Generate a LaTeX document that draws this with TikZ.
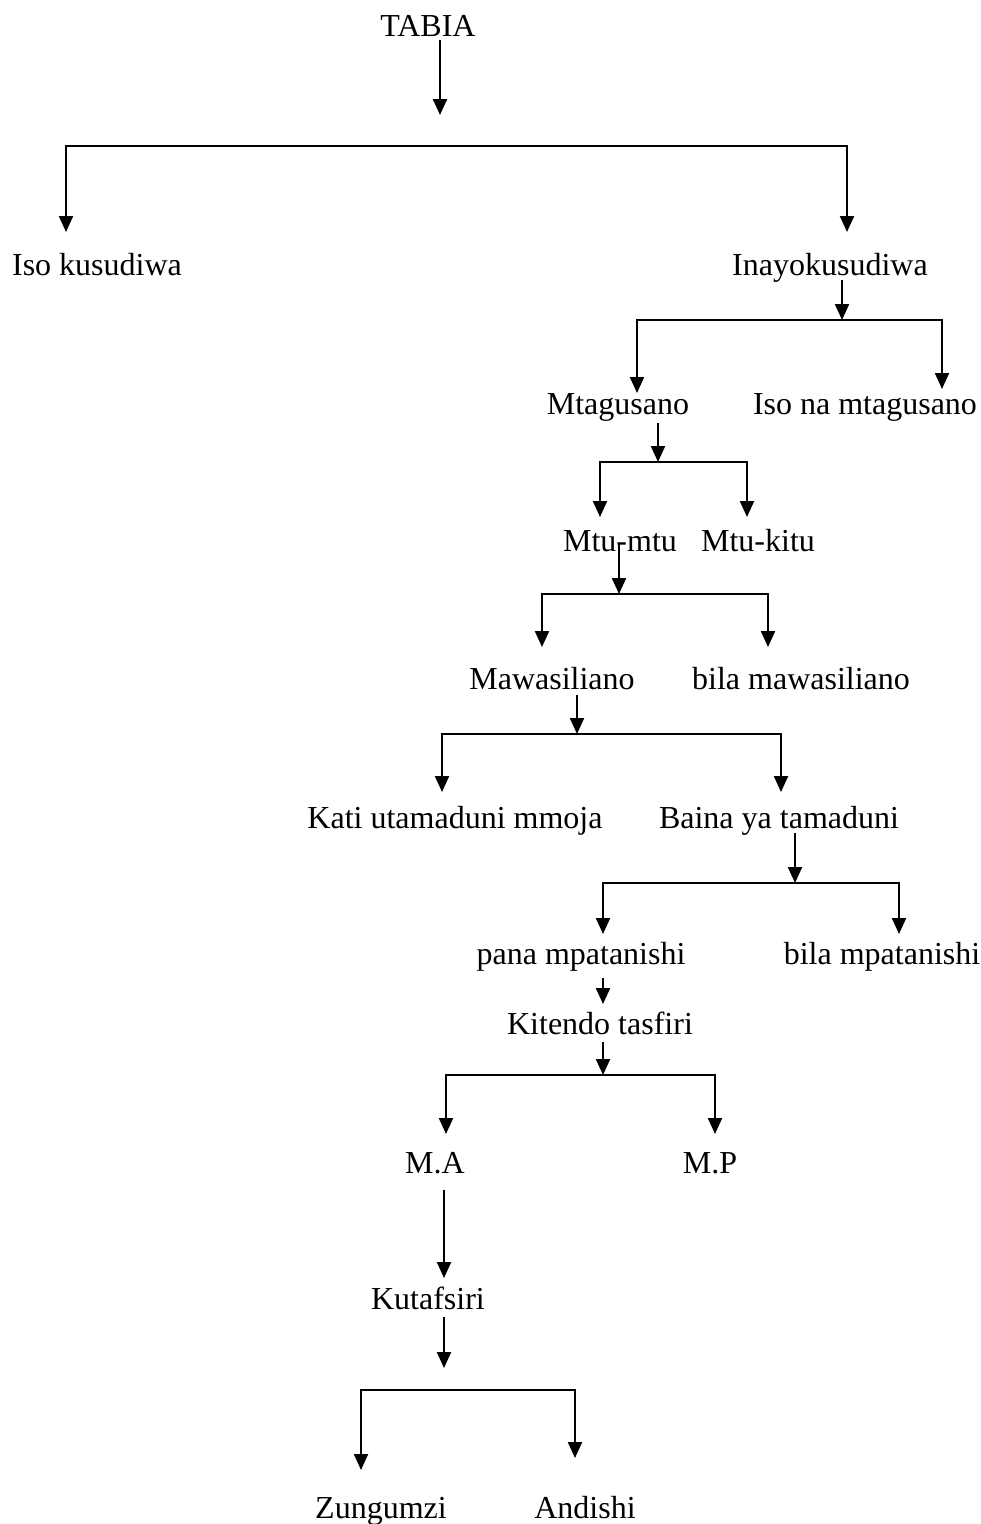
\documentclass[tikz,border=0pt]{standalone}
\usepackage{fontspec}
\setmainfont{Liberation Serif}
\usetikzlibrary{arrows.meta}
\begin{document}
\begin{tikzpicture}[x=1pt,y=-1pt,
  lbl/.style={anchor=base,inner sep=0pt,font=\fontsize{32}{36}\selectfont},
  arr/.style={line width=2.2pt,-{Triangle[length=16pt,width=14pt]}},
  fork/.style={line width=2.2pt,{Triangle[length=16pt,width=14pt]}-{Triangle[length=16pt,width=14pt]}}]
\useasboundingbox (0,0) rectangle (981,1524);
% nodes
\node[lbl] (tabia) at (428,36) {TABIA};
\node[lbl] (iso) at (97,275) {Iso kusudiwa};
\node[lbl] (inayo) at (830,275) {Inayokusudiwa};
\node[lbl] (mtag) at (618,414) {Mtagusano};
\node[lbl] (isona) at (865,414) {Iso na mtagusano};
\node[lbl] (mtumtu) at (620,551) {Mtu-mtu};
\node[lbl] (mtukitu) at (758,551) {Mtu-kitu};
\node[lbl] (mawa) at (552,689) {Mawasiliano};
\node[lbl] (bilamawa) at (801,689) {bila mawasiliano};
\node[lbl] (kati) at (455,828) {Kati utamaduni mmoja};
\node[lbl] (baina) at (779,828) {Baina ya tamaduni};
\node[lbl] (pana) at (581,964) {pana mpatanishi};
\node[lbl] (bilamp) at (882,964) {bila mpatanishi};
\node[lbl] (kitendo) at (600,1034) {Kitendo tasfiri};
\node[lbl] (ma) at (435,1173) {M.A};
\node[lbl] (mp) at (710,1173) {M.P};
\node[lbl] (kutaf) at (428,1309) {Kutafsiri};
\node[lbl] (zung) at (381,1518) {Zungumzi};
\node[lbl] (andi) at (585,1518) {Andishi};
% connector coordinates
\coordinate (a0) at (440,40);   \coordinate (a1) at (440,115);
\coordinate (b1l) at (66,232);  \coordinate (b1a) at (66,146);
\coordinate (b1b) at (847,146); \coordinate (b1r) at (847,232);
\coordinate (c0) at (842,280);  \coordinate (c1) at (842,320);
\coordinate (b2l) at (637,393); \coordinate (b2a) at (637,320);
\coordinate (b2b) at (942,320); \coordinate (b2r) at (942,389);
\coordinate (d0) at (658,423);  \coordinate (d1) at (658,462);
\coordinate (b3l) at (600,517); \coordinate (b3a) at (600,462);
\coordinate (b3b) at (747,462); \coordinate (b3r) at (747,517);
\coordinate (e0) at (619,544);  \coordinate (e1) at (619,594);
\coordinate (b4l) at (542,647); \coordinate (b4a) at (542,594);
\coordinate (b4b) at (768,594); \coordinate (b4r) at (768,647);
\coordinate (f0) at (577,695);  \coordinate (f1) at (577,734);
\coordinate (b5l) at (442,792); \coordinate (b5a) at (442,734);
\coordinate (b5b) at (781,734); \coordinate (b5r) at (781,792);
\coordinate (g0) at (795,833);  \coordinate (g1) at (795,883);
\coordinate (b6l) at (603,934); \coordinate (b6a) at (603,883);
\coordinate (b6b) at (899,883); \coordinate (b6r) at (899,934);
\coordinate (h0) at (603,978);  \coordinate (h1) at (603,1004);
\coordinate (i0) at (603,1042); \coordinate (i1) at (603,1075);
\coordinate (b7l) at (446,1134); \coordinate (b7a) at (446,1075);
\coordinate (b7b) at (715,1075); \coordinate (b7r) at (715,1134);
\coordinate (j0) at (444,1190); \coordinate (j1) at (444,1278);
\coordinate (k0) at (444,1317); \coordinate (k1) at (444,1368);
\coordinate (b8l) at (361,1470); \coordinate (b8a) at (361,1390);
\coordinate (b8b) at (575,1390); \coordinate (b8r) at (575,1458);
% connectors
\draw[arr] (a0) -- (a1);
\draw[fork] (b1l) -- (b1a) -- (b1b) -- (b1r);
\draw[arr] (c0) -- (c1);
\draw[fork] (b2l) -- (b2a) -- (b2b) -- (b2r);
\draw[arr] (d0) -- (d1);
\draw[fork] (b3l) -- (b3a) -- (b3b) -- (b3r);
\draw[arr] (e0) -- (e1);
\draw[fork] (b4l) -- (b4a) -- (b4b) -- (b4r);
\draw[arr] (f0) -- (f1);
\draw[fork] (b5l) -- (b5a) -- (b5b) -- (b5r);
\draw[arr] (g0) -- (g1);
\draw[fork] (b6l) -- (b6a) -- (b6b) -- (b6r);
\draw[arr] (h0) -- (h1);
\draw[arr] (i0) -- (i1);
\draw[fork] (b7l) -- (b7a) -- (b7b) -- (b7r);
\draw[arr] (j0) -- (j1);
\draw[arr] (k0) -- (k1);
\draw[fork] (b8l) -- (b8a) -- (b8b) -- (b8r);
\end{tikzpicture}
\end{document}
